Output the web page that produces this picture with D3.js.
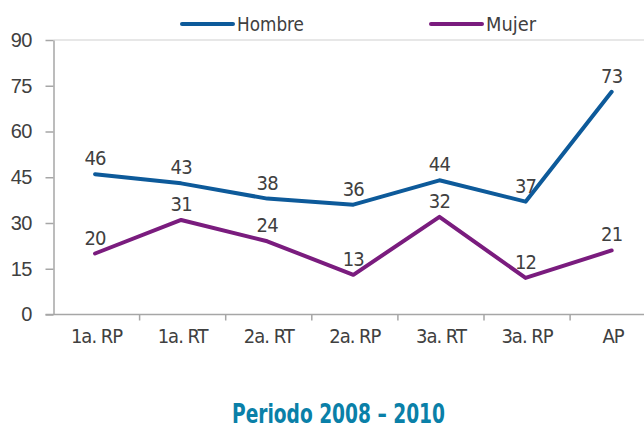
<!DOCTYPE html>
<html lang="es">
<head>
<meta charset="UTF-8">
<title>Periodo 2008 – 2010</title>
<script src="https://cdn.jsdelivr.net/npm/d3@7"></script>
<style>
  body { margin: 0; background: #fff; }
  svg { display: block; font-family: "DejaVu Sans Condensed", "Liberation Sans Narrow", sans-serif; }
</style>
</head>
<body>
<div id="chart"></div>
<script>
// datos
const categories = ["1a. RP", "1a. RT", "2a. RT", "2a. RP", "3a. RT", "3a. RP", "AP"];
const hombre = [46, 43, 38, 36, 44, 37, 73];
const mujer = [20, 31, 24, 13, 32, 12, 21];
const yTicks = [0, 15, 30, 45, 60, 75, 90];
const seriesNames = ["Hombre", "Mujer"];
const title = "Periodo 2008 – 2010";

const width = 644, height = 428;
const colors = { Hombre: "#0d5a9a", Mujer: "#7a1c7e" };
const textColor = "#404040";
const axisColor = "#a6a6a6";

const svg = d3.select("#chart").append("svg")
    .attr("width", width)
    .attr("height", height);

const x = d3.scaleBand()
    .domain(categories)
    .range([53.5, 53.5 + 86.1 * categories.length]);
const y = d3.scaleLinear()
    .domain([0, 90])
    .range([314.5, 40]);

// borde superior del área de trazado
svg.append("line")
    .attr("x1", x.range()[0]).attr("x2", width)
    .attr("y1", y(90)).attr("y2", y(90))
    .attr("stroke", "#cfcfcf").attr("stroke-width", 1.2);

// eje Y
const yAxis = svg.append("g")
    .attr("transform", `translate(${x.range()[0]},0)`)
    .call(d3.axisLeft(y).tickValues(yTicks).tickSize(8).tickPadding(14).tickSizeOuter(0));
yAxis.select(".domain").attr("stroke", axisColor).attr("stroke-width", 1.5);
yAxis.selectAll(".tick line").attr("stroke", axisColor).attr("stroke-width", 1.5);
yAxis.selectAll(".tick text")
    .attr("fill", textColor)
    .attr("font-size", 20)
    .attr("letter-spacing", -0.8)
    .attr("font-family", null);

// eje X
svg.append("line")
    .attr("x1", x.range()[0] - 8).attr("x2", width)
    .attr("y1", y(0)).attr("y2", y(0))
    .attr("stroke", axisColor).attr("stroke-width", 1.5);
svg.selectAll(".xtick")
    .data(categories.slice(1))
    .enter().append("line")
    .attr("class", "xtick")
    .attr("x1", d => x(d)).attr("x2", d => x(d))
    .attr("y1", y(0)).attr("y2", y(0) + 6)
    .attr("stroke", axisColor).attr("stroke-width", 1.5);
svg.selectAll(".xlabel")
    .data(categories)
    .enter().append("text")
    .attr("class", "xlabel")
    .attr("x", d => x(d) + x.bandwidth() / 2)
    .attr("y", 343)
    .attr("text-anchor", "middle")
    .attr("font-size", 20)
    .attr("letter-spacing", -1)
    .attr("fill", textColor)
    .text(d => d);

// líneas
const line = d3.line()
    .x((d, i) => x(categories[i]) + x.bandwidth() / 2 - 1.5)
    .y(d => y(d));

const series = [{ name: "Hombre", values: hombre }, { name: "Mujer", values: mujer }];

series.forEach(s => {
    svg.append("path")
        .datum(s.values)
        .attr("fill", "none")
        .attr("stroke", colors[s.name])
        .attr("stroke-width", 4)
        .attr("stroke-linejoin", "round")
        .attr("stroke-linecap", "round")
        .attr("d", line);

    svg.selectAll(".lbl-" + s.name)
        .data(s.values)
        .enter().append("text")
        .attr("class", "lbl-" + s.name)
        .attr("x", (d, i) => x(categories[i]) + x.bandwidth() / 2 - 1.5)
        .attr("y", d => y(d) - 9)
        .attr("text-anchor", "middle")
        .attr("font-size", 20)
        .attr("letter-spacing", -0.8)
        .attr("fill", textColor)
        .text(d => d);
});

// leyenda
const legendX = [182, 431];
const legendTextW = [67, 50];
seriesNames.forEach((name, i) => {
    const g = svg.append("g").attr("transform", `translate(${legendX[i]},24)`);
    g.append("line")
        .attr("x1", 0).attr("x2", 51)
        .attr("stroke", colors[name])
        .attr("stroke-width", 4)
        .attr("stroke-linecap", "round");
    g.append("text")
        .attr("x", 55)
        .attr("y", 7)
        .attr("font-size", 20)
        .attr("textLength", legendTextW[i])
        .attr("lengthAdjust", "spacingAndGlyphs")
        .attr("fill", textColor)
        .text(name);
});

// título
svg.append("text")
    .attr("x", 232)
    .attr("y", 423)
    .attr("font-size", 26)
    .attr("font-weight", "bold")
    .attr("textLength", 213)
    .attr("lengthAdjust", "spacingAndGlyphs")
    .attr("fill", "#0a80a8")
    .text(title);
</script>
</body>
</html>
